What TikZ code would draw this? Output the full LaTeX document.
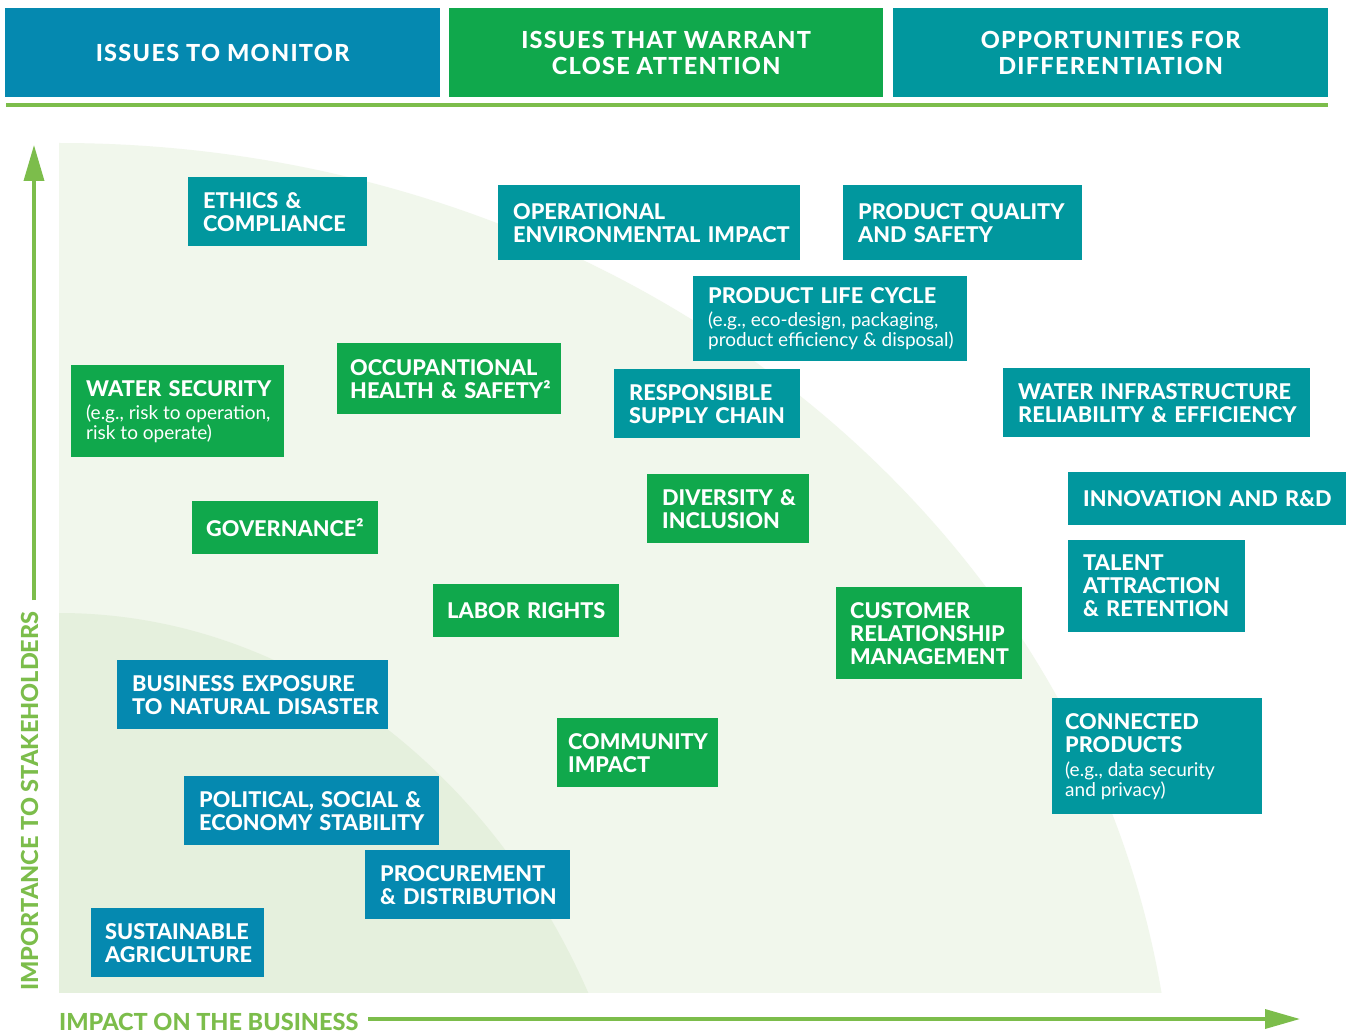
\documentclass[tikz,border=0pt]{standalone}
\usepackage{fontspec}
\setmainfont{Lato}[BoldFont={Lato Heavy}]
\newfontfamily\headfont{Lato}[BoldFont={Lato Heavy}, LetterSpace=5.5]
\usetikzlibrary{arrows.meta}
\definecolor{issueblue}{RGB}{5,137,176}
\definecolor{issuegreen}{RGB}{16,168,76}
\definecolor{issueteal}{RGB}{1,151,158}
\definecolor{axisgreen}{RGB}{124,189,75}
\definecolor{zoneouter}{RGB}{241,247,236}
\definecolor{zoneinner}{RGB}{229,240,221}
\newcommand\egtext{\fontsize{19}{20}\selectfont\mdseries\spaceskip=0.26em\xspaceskip=0.3em}

\begin{document}
\begin{tikzpicture}
			[x=1pt,y=-1pt]
			\tikzstyle{issue}=[anchor=north west, inner xsep=15pt, inner ysep=0pt, text=white, align=left, font=\fontsize{21.7}{23}\selectfont\bfseries, execute at begin node={\hyphenpenalty=10000\exhyphenpenalty=10000\relax}]
			\tikzstyle{header}=[anchor=north west, inner sep=0pt, text=white, align=center, font=\headfont\fontsize{23.5}{26}\selectfont\bfseries]
			\tikzstyle{axislabel}=[inner sep=0pt, text=axisgreen, font=\fontsize{23.5}{25}\selectfont\bfseries]
			\tikzstyle{axisline}=[draw=axisgreen, line width=3.5pt]
			
			\fill[white] (0,0) rectangle (1348,1032);
			\useasboundingbox (0,0) rectangle (1348,1032);
			
			\begin{scope}
				\clip (59,143) rectangle (1163,992);
				\fill[zoneouter] (59,1143) ellipse [x radius=1115, y radius=1000];
				\fill[zoneinner] (59,1313) ellipse [x radius=595, y radius=700];
			\end{scope}
			
			\node[header, fill=issueblue, minimum width=435pt, minimum height=89pt] (monitor) at (5,8) {ISSUES TO MONITOR};
			\node[header, fill=issuegreen, minimum width=434pt, minimum height=89pt] (warrant) at (449,8) {ISSUES THAT WARRANT\\CLOSE ATTENTION};
			\node[header, fill=issueteal, minimum width=435pt, minimum height=89pt] (differ) at (893,8) {OPPORTUNITIES FOR\\DIFFERENTIATION};
			\draw[axisline, line width=4pt] (6,105) -- (1328,105);
			
			\node[issue, fill=issueteal, text width=149pt, minimum height=69pt] (ethics) at (188,177) {ETHICS~\&\\COMPLIANCE};
			\node[issue, fill=issueteal, text width=272pt, minimum height=75pt] (opimpact) at (498,185) {OPERATIONAL\\ENVIRONMENTAL~IMPACT};
			\node[issue, fill=issueteal, text width=209pt, minimum height=75pt] (prodquality) at (843,185) {PRODUCT~QUALITY\\AND~SAFETY};
			\node[issue, fill=issueteal, text width=244pt, minimum height=85pt] (lifecycle) at (693,276) {PRODUCT~LIFE~CYCLE\\{\egtext (e.g.,~eco-design,~packaging,}\\[-3pt]{\egtext product~efficiency~\&~disposal)}};
			\node[issue, fill=issuegreen, text width=183pt, minimum height=92pt] (watersec) at (71,365) {WATER~SECURITY\\{\egtext (e.g.,~risk~to~operation,}\\[-3pt]{\egtext risk~to~operate)}};
			\node[issue, fill=issuegreen, text width=198pt, minimum height=71pt, inner xsep=13pt] (ohs) at (337,343) {OCCUPANTIONAL\\HEALTH~\&~SAFETY²};
			\node[issue, fill=issueteal, text width=156pt, minimum height=69pt] (supply) at (614,369) {RESPONSIBLE\\SUPPLY~CHAIN};
			\node[issue, fill=issueteal, text width=277pt, minimum height=69pt] (waterinfra) at (1003,368) {WATER~INFRASTRUCTURE\\RELIABILITY~\&~EFFICIENCY};
			\node[issue, fill=issuegreen, text width=158pt, minimum height=53pt, inner xsep=14pt] (governance) at (192,501) {GOVERNANCE²};
			\node[issue, fill=issuegreen, text width=132pt, minimum height=69pt] (diversity) at (647,474) {DIVERSITY~\&\\INCLUSION};
			\node[issue, fill=issueteal, text width=248pt, minimum height=53pt] (innovation) at (1068,472) {INNOVATION~AND~R\&D};
			\node[issue, fill=issueteal, text width=147pt, minimum height=92pt] (talent) at (1068,540) {TALENT\\ATTRACTION\\\&~RETENTION};
			\node[issue, fill=issuegreen, text width=158pt, minimum height=53pt, inner xsep=14pt] (labor) at (433,584) {LABOR~RIGHTS};
			\node[issue, fill=issuegreen, text width=158pt, minimum height=92pt, inner xsep=14pt] (customer) at (836,587) {CUSTOMER\\RELATIONSHIP\\MANAGEMENT};
			\node[issue, fill=issueblue, text width=241pt, minimum height=69pt] (exposure) at (117,660) {BUSINESS~EXPOSURE\\TO~NATURAL~DISASTER};
			\node[issue, fill=issuegreen, text width=139pt, minimum height=69pt, inner xsep=11pt] (community) at (557,718) {COMMUNITY\\IMPACT};
			\node[issue, fill=issueteal, text width=184pt, minimum height=116pt, inner xsep=13pt] (connected) at (1052,698) {CONNECTED\\PRODUCTS\\[1pt]{\egtext (e.g.,~data~security}\\[-3pt]{\egtext and~privacy)}};
			\node[issue, fill=issueblue, text width=225pt, minimum height=69pt] (political) at (184,776) {POLITICAL,~SOCIAL~\&\\ECONOMY~STABILITY};
			\node[issue, fill=issueblue, text width=175pt, minimum height=69pt] (procurement) at (365,850) {PROCUREMENT\\\&~DISTRIBUTION};
			\node[issue, fill=issueblue, text width=145pt, minimum height=69pt, inner xsep=14pt] (agriculture) at (91,908) {SUSTAINABLE\\AGRICULTURE};
			
			\node[axislabel, rotate=90, anchor=base] (stakeholders) at (38,801) {IMPORTANCE TO STAKEHOLDERS};
			\node[axislabel, anchor=base west] (business) at (59,1030) {IMPACT ON THE BUSINESS};
			\coordinate (vtail) at (34,600);
			\coordinate (vtip) at (34,145);
			\coordinate (htail) at (368,1019);
			\coordinate (htip) at (1300,1019);
			\draw[axisline, -{Triangle[length=36pt, width=20pt]}] (vtail) -- (vtip);
			\draw[axisline, -{Triangle[length=35pt, width=19pt]}] (htail) -- (htip);
		\end{tikzpicture}
\end{document}
